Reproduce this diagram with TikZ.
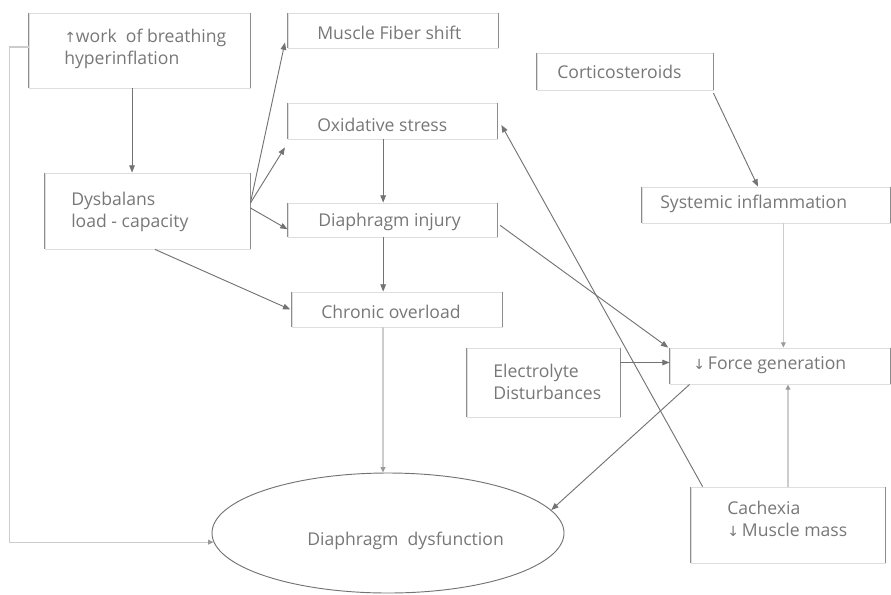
\documentclass[tikz,border=0pt]{standalone}
\usepackage{fontspec}
\setmainfont{Open Sans}
\newfontfamily\symf{DejaVu Sans}
\usetikzlibrary{arrows.meta,shapes.geometric,fit}
\definecolor{txtc}{HTML}{777777}
\tikzset{
  box/.style={draw=black!13, line width=0.6pt, inner sep=0pt, rectangle},
  lbl/.style={anchor=west, inner sep=0pt, text=txtc, font=\fontsize{13.2}{16.5}\selectfont, align=left},
  arr/.style={draw=black!55, line width=0.7pt, -{Triangle[length=5.5pt,width=4.2pt]}},
  larr/.style={draw=black!20, line width=0.9pt, -{Triangle[length=4pt,width=3.5pt,color=black!40]}},
}
\newcommand{\upar}{{\symf\fontsize{10.5}{10.5}\selectfont ↑}}
\newcommand{\dnar}{{\symf\fontsize{10.5}{10.5}\selectfont ↓}}
\begin{document}
\begin{tikzpicture}[x=0.75pt,y=-0.75pt]
\useasboundingbox (0,0) rectangle (891,594);
% boxes
\node[box, fit={(29,13) (250,88)}] (b1) {};
\node[box, fit={(288,13) (498,48)}] (mfs) {};
\node[box, fit={(288,103) (497,139)}] (ox) {};
\node[box, fit={(45,173) (250,249)}] (dys) {};
\node[box, fit={(288,203) (497,237)}] (inj) {};
\node[box, fit={(292,292) (502,327)}] (chr) {};
\node[box, fit={(537,53) (713,90)}] (cort) {};
\node[box, fit={(642,187) (890,223)}] (sys) {};
\node[box, fit={(467,348) (620,417)}] (ele) {};
\node[box, fit={(670,348) (890,384)}] (force) {};
\node[box, fit={(691,487) (885,563)}] (cach) {};
\node[ellipse, draw=black!55, line width=0.7pt, minimum width=264pt, minimum height=90pt, inner sep=0pt] (ell) at (388,533) {};
\foreach \n in {b1,mfs,ox,dys,inj,chr,cort,sys,ele,force,cach}
  \draw[black!45, line width=0.6pt] (\n.north west) -- (\n.south west) (\n.north east) -- (\n.south east);
% texts
\node[lbl] (t1) at (64,49) {\upar work\ \ of breathing\\hyperinflation};
\node[lbl] (tmfs) at (317,33) {Muscle Fiber shift};
\node[lbl] (tox) at (317,125) {Oxidative stress};
\node[lbl] (tdys) at (71,212) {Dysbalans\\load - capacity};
\node[lbl] (tinj) at (318,222) {Diaphragm injury};
\node[lbl] (tchr) at (321,312) {Chronic overload};
\node[lbl] (tcort) at (557,72) {Corticosteroids};
\node[lbl] (tsys) at (660,204) {Systemic inflammation};
\node[lbl] (tele) at (493,382) {Electrolyte\\Disturbances};
\node[lbl] (tforce) at (693,365) {\dnar\,Force generation};
\node[lbl] (tcach) at (727,519) {Cachexia\\\dnar\,Muscle mass};
\node[lbl] (tell) at (307,541) {Diaphragm\ \ dysfunction};
% connectors
\draw[arr] ([xshift=-5.6pt]b1.south) -- ([xshift=-5.6pt]b1.south |- dys.north);
\draw[arr] ([yshift=6pt]dys.east) -- ([xshift=-2pt,yshift=-9pt]mfs.west);
\draw[arr] ([yshift=6pt]dys.east) -- ([xshift=-2pt,yshift=-6pt]ox.south west);
\draw[arr] ([yshift=2.3pt]dys.east) -- ([yshift=-7pt]inj.west);
\draw[arr] ([xshift=5.6pt]dys.south) -- ([xshift=-1pt]chr.west);
\draw[arr] ([xshift=-7pt]ox.south) -- ([xshift=-7pt]ox.south |- inj.north);
\draw[arr] ([xshift=-7pt]inj.south) -- ([xshift=-7pt]inj.south |- chr.north);
\draw[larr] ([xshift=-10.5pt]chr.south) -- ([xshift=-10.5pt]chr.south |- ell.north);
\draw[arr] ([xshift=2pt,yshift=-4pt]inj.east) -- ([xshift=-1pt]force.north west);
\draw[arr] ([yshift=15pt]ele.east) -- ([yshift=15pt]ele.east -| force.west);
\draw[larr] ([xshift=13pt]sys.south) -- ([xshift=13pt]sys.south |- force.north);
\draw[larr] (cach.north) -- (cach.north |- force.south);
\draw[arr] ([xshift=15pt]force.south west) -- (ell.8);
\draw[arr] ([xshift=9pt]cach.north west) -- ([xshift=3pt,yshift=-3pt]ox.east);
\draw[arr] ([yshift=-2pt]cort.south east) -- ([xshift=-6pt]sys.north);
\draw[larr] ([yshift=2.6pt]b1.west) -- ++(-19,0) |- (ell.183);
\end{tikzpicture}
\end{document}
